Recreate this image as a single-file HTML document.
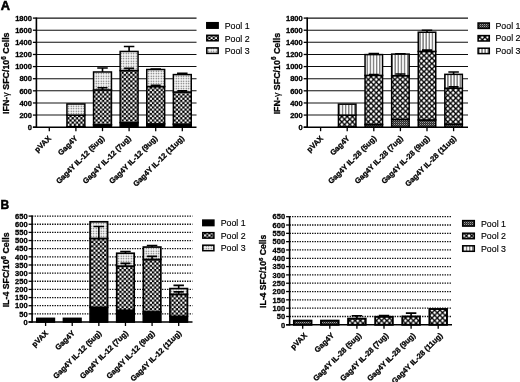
<!DOCTYPE html>
<html><head><meta charset="utf-8"><title>Figure</title>
<style>
html,body{margin:0;padding:0;background:#fff;}
body{width:520px;height:382px;overflow:hidden;font-family:"Liberation Sans", sans-serif;}
svg{display:block;font-family:"Liberation Sans", sans-serif;}
svg text{fill:#000;} svg text[font-weight=bold]{stroke:#000;stroke-width:0.3px;} svg text.lg{stroke:#000;stroke-width:0.15px;}
</style></head><body>
<svg width="520" height="382" viewBox="0 0 520 382">

<defs>
<filter id="bl" x="-5%" y="-5%" width="110%" height="110%"><feGaussianBlur stdDeviation="0.36"/></filter>
<pattern id="chk" width="4.34" height="4.34" patternUnits="userSpaceOnUse"><rect width="4.34" height="4.34" fill="#000"/><rect x="0.1" y="0.1" width="2.05" height="2.05" fill="#fff"/><rect x="2.27" y="2.27" width="2.05" height="2.05" fill="#fff"/></pattern>
<pattern id="dot" width="2.5" height="2.5" patternUnits="userSpaceOnUse"><rect width="2.5" height="2.5" fill="#fff"/><rect x="0.6" y="0.6" width="1.25" height="1.25" fill="#555"/></pattern>
<pattern id="brk" width="2" height="2" patternUnits="userSpaceOnUse"><rect width="2" height="2" fill="#2a2a2a"/><rect x="0" y="0" width="1" height="1" fill="#a0a0a0"/><rect x="1" y="1" width="1" height="1" fill="#555"/></pattern>
<pattern id="dia" width="5.3" height="5.3" patternUnits="userSpaceOnUse"><rect width="5.3" height="5.3" fill="#000"/><path d="M0 -1.7L1.7 0L0 1.7L-1.7 0ZM5.3 -1.7L7 0L5.3 1.7L3.6 0ZM0 3.6L1.7 5.3L0 7L-1.7 5.3ZM5.3 3.6L7 5.3L5.3 7L3.6 5.3ZM2.65 0.95L4.35 2.65L2.65 4.35L0.95 2.65Z" fill="#fff"/></pattern>
<pattern id="vst" width="3.1" height="3.1" patternUnits="userSpaceOnUse"><rect width="3.1" height="3.1" fill="#fff"/><rect x="1.1" y="0" width="0.85" height="3.1" fill="#222"/></pattern>
</defs>

<rect width="520" height="382" fill="#fff"/>
<g filter="url(#bl)">
<line x1="36.4" y1="115.08" x2="196.5" y2="115.08" stroke="#111" stroke-width="1.05"/>
<line x1="36.4" y1="102.96" x2="196.5" y2="102.96" stroke="#111" stroke-width="1.05"/>
<line x1="36.4" y1="90.83" x2="196.5" y2="90.83" stroke="#111" stroke-width="1.05"/>
<line x1="36.4" y1="78.71" x2="196.5" y2="78.71" stroke="#111" stroke-width="1.05"/>
<line x1="36.4" y1="66.59" x2="196.5" y2="66.59" stroke="#111" stroke-width="1.05"/>
<line x1="36.4" y1="54.47" x2="196.5" y2="54.47" stroke="#111" stroke-width="1.05"/>
<line x1="36.4" y1="42.34" x2="196.5" y2="42.34" stroke="#111" stroke-width="1.05"/>
<line x1="36.4" y1="30.22" x2="196.5" y2="30.22" stroke="#111" stroke-width="1.05"/>
<line x1="36.4" y1="18.1" x2="196.5" y2="18.1" stroke="#111" stroke-width="1.05"/>
<rect x="66.95" y="126.72" width="17.9" height="0.48" fill="#000" stroke="#000" stroke-width="1.5"/>
<rect x="66.95" y="115.08" width="17.9" height="11.64" fill="url(#chk)" stroke="#000" stroke-width="1.5"/>
<rect x="66.95" y="103.99" width="17.9" height="11.09" fill="url(#dot)" stroke="#000" stroke-width="1.5"/>
<rect x="93.55" y="124.78" width="17.9" height="2.42" fill="#000" stroke="#000" stroke-width="1.5"/>
<rect x="93.55" y="89.92" width="17.9" height="34.85" fill="url(#chk)" stroke="#000" stroke-width="1.5"/>
<rect x="93.55" y="71.98" width="17.9" height="17.94" fill="url(#dot)" stroke="#000" stroke-width="1.5"/>
<path d="M102.5 71.98V67.98M97.25 67.98H107.75" stroke="#000" stroke-width="1.6" fill="none"/>
<path d="M102.5 89.92V87.8M97.5 87.8H107.5" stroke="#000" stroke-width="1.6" fill="none"/>
<rect x="120.15" y="122.59" width="17.9" height="4.61" fill="#000" stroke="#000" stroke-width="1.5"/>
<rect x="120.15" y="70.53" width="17.9" height="52.06" fill="url(#chk)" stroke="#000" stroke-width="1.5"/>
<rect x="120.15" y="51.44" width="17.9" height="19.09" fill="url(#dot)" stroke="#000" stroke-width="1.5"/>
<path d="M129.1 51.44V46.53M123.85 46.53H134.35" stroke="#000" stroke-width="1.6" fill="none"/>
<path d="M129.1 70.53V68.41M124.1 68.41H134.1" stroke="#000" stroke-width="1.6" fill="none"/>
<rect x="146.75" y="123.87" width="17.9" height="3.33" fill="#000" stroke="#000" stroke-width="1.5"/>
<rect x="146.75" y="86.53" width="17.9" height="37.34" fill="url(#chk)" stroke="#000" stroke-width="1.5"/>
<rect x="146.75" y="69.5" width="17.9" height="17.03" fill="url(#dot)" stroke="#000" stroke-width="1.5"/>
<path d="M155.7 69.5V69.01M150.45 69.01H160.95" stroke="#000" stroke-width="1.6" fill="none"/>
<path d="M155.7 86.53V85.38M150.7 85.38H160.7" stroke="#000" stroke-width="1.6" fill="none"/>
<rect x="173.35" y="124.17" width="17.9" height="3.03" fill="#000" stroke="#000" stroke-width="1.5"/>
<rect x="173.35" y="92.05" width="17.9" height="32.12" fill="url(#chk)" stroke="#000" stroke-width="1.5"/>
<rect x="173.35" y="74.59" width="17.9" height="17.46" fill="url(#dot)" stroke="#000" stroke-width="1.5"/>
<path d="M182.3 74.59V73.38M177.05 73.38H187.55" stroke="#000" stroke-width="1.6" fill="none"/>
<path d="M182.3 92.05V90.83M177.3 90.83H187.3" stroke="#000" stroke-width="1.6" fill="none"/>
<line x1="36.4" y1="17.5" x2="36.4" y2="127.9" stroke="#000" stroke-width="1.6"/>
<line x1="32.9" y1="127.2" x2="196.5" y2="127.2" stroke="#000" stroke-width="1.5"/>
<line x1="32.9" y1="127.2" x2="36.4" y2="127.2" stroke="#000" stroke-width="1.3"/>
<text x="31.9" y="129.9" font-size="7.5" font-weight="bold" text-anchor="end">0</text>
<line x1="32.9" y1="115.08" x2="36.4" y2="115.08" stroke="#000" stroke-width="1.3"/>
<text x="31.9" y="117.78" font-size="7.5" font-weight="bold" text-anchor="end">200</text>
<line x1="32.9" y1="102.96" x2="36.4" y2="102.96" stroke="#000" stroke-width="1.3"/>
<text x="31.9" y="105.66" font-size="7.5" font-weight="bold" text-anchor="end">400</text>
<line x1="32.9" y1="90.83" x2="36.4" y2="90.83" stroke="#000" stroke-width="1.3"/>
<text x="31.9" y="93.53" font-size="7.5" font-weight="bold" text-anchor="end">600</text>
<line x1="32.9" y1="78.71" x2="36.4" y2="78.71" stroke="#000" stroke-width="1.3"/>
<text x="31.9" y="81.41" font-size="7.5" font-weight="bold" text-anchor="end">800</text>
<line x1="32.9" y1="66.59" x2="36.4" y2="66.59" stroke="#000" stroke-width="1.3"/>
<text x="31.9" y="69.29" font-size="7.5" font-weight="bold" text-anchor="end">1000</text>
<line x1="32.9" y1="54.47" x2="36.4" y2="54.47" stroke="#000" stroke-width="1.3"/>
<text x="31.9" y="57.17" font-size="7.5" font-weight="bold" text-anchor="end">1200</text>
<line x1="32.9" y1="42.34" x2="36.4" y2="42.34" stroke="#000" stroke-width="1.3"/>
<text x="31.9" y="45.04" font-size="7.5" font-weight="bold" text-anchor="end">1400</text>
<line x1="32.9" y1="30.22" x2="36.4" y2="30.22" stroke="#000" stroke-width="1.3"/>
<text x="31.9" y="32.92" font-size="7.5" font-weight="bold" text-anchor="end">1600</text>
<line x1="32.9" y1="18.1" x2="36.4" y2="18.1" stroke="#000" stroke-width="1.3"/>
<text x="31.9" y="20.8" font-size="7.5" font-weight="bold" text-anchor="end">1800</text>
<line x1="49.3" y1="127.2" x2="49.3" y2="131.2" stroke="#000" stroke-width="1.3"/>
<text transform="translate(51.5 138.8) rotate(-45)" font-size="7.6" font-weight="bold" text-anchor="end">pVAX</text>
<line x1="75.9" y1="127.2" x2="75.9" y2="131.2" stroke="#000" stroke-width="1.3"/>
<text transform="translate(78.1 138.8) rotate(-45)" font-size="7.6" font-weight="bold" text-anchor="end">Gag4Y</text>
<line x1="102.5" y1="127.2" x2="102.5" y2="131.2" stroke="#000" stroke-width="1.3"/>
<text transform="translate(104.7 138.8) rotate(-45)" font-size="7.6" font-weight="bold" text-anchor="end">Gag4Y IL-12 (5ug)</text>
<line x1="129.1" y1="127.2" x2="129.1" y2="131.2" stroke="#000" stroke-width="1.3"/>
<text transform="translate(131.3 138.8) rotate(-45)" font-size="7.6" font-weight="bold" text-anchor="end">Gag4Y IL-12 (7ug)</text>
<line x1="155.7" y1="127.2" x2="155.7" y2="131.2" stroke="#000" stroke-width="1.3"/>
<text transform="translate(157.9 138.8) rotate(-45)" font-size="7.6" font-weight="bold" text-anchor="end">Gag4Y IL-12 (9ug)</text>
<line x1="182.3" y1="127.2" x2="182.3" y2="131.2" stroke="#000" stroke-width="1.3"/>
<text transform="translate(184.5 138.8) rotate(-45)" font-size="7.6" font-weight="bold" text-anchor="end">Gag4Y IL-12 (11ug)</text>
<text transform="translate(9.2 73.2) rotate(-90)" font-size="8.9" font-weight="bold" text-anchor="middle">IFN-<tspan font-weight="normal" stroke-width="0.1">&#947;</tspan> SFC/10<tspan font-size="72%" dy="-3.4">6</tspan><tspan dy="3.4"> Cells</tspan></text>
<rect x="206.8" y="22.7" width="11.35" height="5.5" fill="#000" stroke="#000" stroke-width="1.5"/>
<text class="lg" x="224.7" y="28.9" font-size="8.8">Pool 1</text>
<rect x="206.8" y="35.3" width="11.35" height="5.5" fill="url(#chk)" stroke="#000" stroke-width="1.5"/>
<text class="lg" x="224.7" y="41.5" font-size="8.8">Pool 2</text>
<rect x="206.8" y="47.9" width="11.35" height="5.5" fill="url(#dot)" stroke="#000" stroke-width="1.5"/>
<text class="lg" x="224.7" y="54.1" font-size="8.8">Pool 3</text>
<line x1="307.2" y1="115.08" x2="468" y2="115.08" stroke="#111" stroke-width="1.05"/>
<line x1="307.2" y1="102.96" x2="468" y2="102.96" stroke="#111" stroke-width="1.05"/>
<line x1="307.2" y1="90.83" x2="468" y2="90.83" stroke="#111" stroke-width="1.05"/>
<line x1="307.2" y1="78.71" x2="468" y2="78.71" stroke="#111" stroke-width="1.05"/>
<line x1="307.2" y1="66.59" x2="468" y2="66.59" stroke="#111" stroke-width="1.05"/>
<line x1="307.2" y1="54.47" x2="468" y2="54.47" stroke="#111" stroke-width="1.05"/>
<line x1="307.2" y1="42.34" x2="468" y2="42.34" stroke="#111" stroke-width="1.05"/>
<line x1="307.2" y1="30.22" x2="468" y2="30.22" stroke="#111" stroke-width="1.05"/>
<line x1="307.2" y1="18.1" x2="468" y2="18.1" stroke="#111" stroke-width="1.05"/>
<rect x="338.45" y="126.9" width="17.5" height="0.3" fill="url(#brk)" stroke="#000" stroke-width="1.5"/>
<rect x="338.45" y="115.08" width="17.5" height="11.82" fill="url(#dia)" stroke="#000" stroke-width="1.5"/>
<rect x="338.45" y="104.17" width="17.5" height="10.91" fill="url(#vst)" stroke="#000" stroke-width="1.5"/>
<rect x="365.05" y="124.47" width="17.5" height="2.73" fill="url(#brk)" stroke="#000" stroke-width="1.5"/>
<rect x="365.05" y="75.38" width="17.5" height="49.09" fill="url(#dia)" stroke="#000" stroke-width="1.5"/>
<rect x="365.05" y="54.59" width="17.5" height="20.79" fill="url(#vst)" stroke="#000" stroke-width="1.5"/>
<path d="M373.8 54.59V53.5M368.55 53.5H379.05" stroke="#000" stroke-width="1.6" fill="none"/>
<path d="M373.8 75.38V74.47M368.8 74.47H378.8" stroke="#000" stroke-width="1.6" fill="none"/>
<rect x="391.65" y="119.38" width="17.5" height="7.82" fill="url(#brk)" stroke="#000" stroke-width="1.5"/>
<rect x="391.65" y="75.68" width="17.5" height="43.7" fill="url(#dia)" stroke="#000" stroke-width="1.5"/>
<rect x="391.65" y="54.1" width="17.5" height="21.58" fill="url(#vst)" stroke="#000" stroke-width="1.5"/>
<path d="M400.4 54.1V53.74M395.15 53.74H405.65" stroke="#000" stroke-width="1.6" fill="none"/>
<path d="M400.4 75.68V73.98M395.4 73.98H405.4" stroke="#000" stroke-width="1.6" fill="none"/>
<rect x="418.25" y="119.93" width="17.5" height="7.27" fill="url(#brk)" stroke="#000" stroke-width="1.5"/>
<rect x="418.25" y="51.44" width="17.5" height="68.49" fill="url(#dia)" stroke="#000" stroke-width="1.5"/>
<rect x="418.25" y="32.22" width="17.5" height="19.21" fill="url(#vst)" stroke="#000" stroke-width="1.5"/>
<path d="M427 32.22V30.22M421.75 30.22H432.25" stroke="#000" stroke-width="1.6" fill="none"/>
<path d="M427 51.44V50.1M422 50.1H432" stroke="#000" stroke-width="1.6" fill="none"/>
<rect x="444.85" y="124.17" width="17.5" height="3.03" fill="url(#brk)" stroke="#000" stroke-width="1.5"/>
<rect x="444.85" y="88.23" width="17.5" height="35.94" fill="url(#dia)" stroke="#000" stroke-width="1.5"/>
<rect x="444.85" y="74.35" width="17.5" height="13.88" fill="url(#vst)" stroke="#000" stroke-width="1.5"/>
<path d="M453.6 74.35V72.04M448.35 72.04H458.85" stroke="#000" stroke-width="1.6" fill="none"/>
<path d="M453.6 88.23V86.89M448.6 86.89H458.6" stroke="#000" stroke-width="1.6" fill="none"/>
<line x1="307.2" y1="17.5" x2="307.2" y2="127.9" stroke="#000" stroke-width="1.6"/>
<line x1="303.7" y1="127.2" x2="468" y2="127.2" stroke="#000" stroke-width="1.5"/>
<line x1="303.7" y1="127.2" x2="307.2" y2="127.2" stroke="#000" stroke-width="1.3"/>
<text x="302.7" y="129.9" font-size="7.5" font-weight="bold" text-anchor="end">0</text>
<line x1="303.7" y1="115.08" x2="307.2" y2="115.08" stroke="#000" stroke-width="1.3"/>
<text x="302.7" y="117.78" font-size="7.5" font-weight="bold" text-anchor="end">200</text>
<line x1="303.7" y1="102.96" x2="307.2" y2="102.96" stroke="#000" stroke-width="1.3"/>
<text x="302.7" y="105.66" font-size="7.5" font-weight="bold" text-anchor="end">400</text>
<line x1="303.7" y1="90.83" x2="307.2" y2="90.83" stroke="#000" stroke-width="1.3"/>
<text x="302.7" y="93.53" font-size="7.5" font-weight="bold" text-anchor="end">600</text>
<line x1="303.7" y1="78.71" x2="307.2" y2="78.71" stroke="#000" stroke-width="1.3"/>
<text x="302.7" y="81.41" font-size="7.5" font-weight="bold" text-anchor="end">800</text>
<line x1="303.7" y1="66.59" x2="307.2" y2="66.59" stroke="#000" stroke-width="1.3"/>
<text x="302.7" y="69.29" font-size="7.5" font-weight="bold" text-anchor="end">1000</text>
<line x1="303.7" y1="54.47" x2="307.2" y2="54.47" stroke="#000" stroke-width="1.3"/>
<text x="302.7" y="57.17" font-size="7.5" font-weight="bold" text-anchor="end">1200</text>
<line x1="303.7" y1="42.34" x2="307.2" y2="42.34" stroke="#000" stroke-width="1.3"/>
<text x="302.7" y="45.04" font-size="7.5" font-weight="bold" text-anchor="end">1400</text>
<line x1="303.7" y1="30.22" x2="307.2" y2="30.22" stroke="#000" stroke-width="1.3"/>
<text x="302.7" y="32.92" font-size="7.5" font-weight="bold" text-anchor="end">1600</text>
<line x1="303.7" y1="18.1" x2="307.2" y2="18.1" stroke="#000" stroke-width="1.3"/>
<text x="302.7" y="20.8" font-size="7.5" font-weight="bold" text-anchor="end">1800</text>
<line x1="320.6" y1="127.2" x2="320.6" y2="131.2" stroke="#000" stroke-width="1.3"/>
<text transform="translate(323.6 138.8) rotate(-45)" font-size="7.6" font-weight="bold" text-anchor="end">pVAX</text>
<line x1="347.2" y1="127.2" x2="347.2" y2="131.2" stroke="#000" stroke-width="1.3"/>
<text transform="translate(350.2 138.8) rotate(-45)" font-size="7.6" font-weight="bold" text-anchor="end">Gag4Y</text>
<line x1="373.8" y1="127.2" x2="373.8" y2="131.2" stroke="#000" stroke-width="1.3"/>
<text transform="translate(376.8 138.8) rotate(-45)" font-size="7.6" font-weight="bold" text-anchor="end">Gag4Y IL-28 (5ug)</text>
<line x1="400.4" y1="127.2" x2="400.4" y2="131.2" stroke="#000" stroke-width="1.3"/>
<text transform="translate(403.4 138.8) rotate(-45)" font-size="7.6" font-weight="bold" text-anchor="end">Gag4Y IL-28 (7ug)</text>
<line x1="427" y1="127.2" x2="427" y2="131.2" stroke="#000" stroke-width="1.3"/>
<text transform="translate(430 138.8) rotate(-45)" font-size="7.6" font-weight="bold" text-anchor="end">Gag4Y IL-28 (9ug)</text>
<line x1="453.6" y1="127.2" x2="453.6" y2="131.2" stroke="#000" stroke-width="1.3"/>
<text transform="translate(456.6 138.8) rotate(-45)" font-size="7.6" font-weight="bold" text-anchor="end">Gag4Y IL-28 (11ug)</text>
<text transform="translate(279.6 73.6) rotate(-90)" font-size="8.9" font-weight="bold" text-anchor="middle">IFN-<tspan font-weight="normal" stroke-width="0.1">&#947;</tspan> SFC/10<tspan font-size="72%" dy="-3.4">6</tspan><tspan dy="3.4"> Cells</tspan></text>
<rect x="478.1" y="23" width="11.2" height="5.4" fill="url(#brk)" stroke="#000" stroke-width="1.5"/>
<text class="lg" x="495.5" y="28.7" font-size="8.8">Pool 1</text>
<rect x="478.1" y="35.6" width="11.2" height="5.4" fill="url(#dia)" stroke="#000" stroke-width="1.5"/>
<text class="lg" x="495.5" y="41.3" font-size="8.8">Pool 2</text>
<rect x="478.1" y="48.2" width="11.2" height="5.4" fill="url(#vst)" stroke="#000" stroke-width="1.5"/>
<text class="lg" x="495.5" y="53.9" font-size="8.8">Pool 3</text>
<line x1="32.1" y1="313.85" x2="192.5" y2="313.85" stroke="#000" stroke-width="1.3" stroke-dasharray="1.3 1.2"/>
<line x1="32.1" y1="305.71" x2="192.5" y2="305.71" stroke="#000" stroke-width="1.3" stroke-dasharray="1.3 1.2"/>
<line x1="32.1" y1="297.56" x2="192.5" y2="297.56" stroke="#000" stroke-width="1.3" stroke-dasharray="1.3 1.2"/>
<line x1="32.1" y1="289.42" x2="192.5" y2="289.42" stroke="#000" stroke-width="1.3" stroke-dasharray="1.3 1.2"/>
<line x1="32.1" y1="281.27" x2="192.5" y2="281.27" stroke="#000" stroke-width="1.3" stroke-dasharray="1.3 1.2"/>
<line x1="32.1" y1="273.12" x2="192.5" y2="273.12" stroke="#000" stroke-width="1.3" stroke-dasharray="1.3 1.2"/>
<line x1="32.1" y1="264.98" x2="192.5" y2="264.98" stroke="#000" stroke-width="1.3" stroke-dasharray="1.3 1.2"/>
<line x1="32.1" y1="256.83" x2="192.5" y2="256.83" stroke="#000" stroke-width="1.3" stroke-dasharray="1.3 1.2"/>
<line x1="32.1" y1="248.68" x2="192.5" y2="248.68" stroke="#000" stroke-width="1.3" stroke-dasharray="1.3 1.2"/>
<line x1="32.1" y1="240.54" x2="192.5" y2="240.54" stroke="#000" stroke-width="1.3" stroke-dasharray="1.3 1.2"/>
<line x1="32.1" y1="232.39" x2="192.5" y2="232.39" stroke="#000" stroke-width="1.3" stroke-dasharray="1.3 1.2"/>
<line x1="32.1" y1="224.25" x2="192.5" y2="224.25" stroke="#000" stroke-width="1.3" stroke-dasharray="1.3 1.2"/>
<line x1="32.1" y1="216.1" x2="192.5" y2="216.1" stroke="#000" stroke-width="1.3" stroke-dasharray="1.3 1.2"/>
<rect x="36.85" y="318.42" width="17.5" height="3.58" fill="#000" stroke="#000" stroke-width="1.7"/>
<rect x="63.47" y="318.42" width="17.5" height="3.58" fill="#000" stroke="#000" stroke-width="1.7"/>
<rect x="90.09" y="307.34" width="17.5" height="14.66" fill="#000" stroke="#000" stroke-width="1.7"/>
<rect x="90.09" y="238.42" width="17.5" height="68.92" fill="url(#chk)" stroke="#000" stroke-width="1.7"/>
<rect x="90.09" y="221.8" width="17.5" height="16.62" fill="url(#dot)" stroke="#000" stroke-width="1.7"/>
<path d="M98.84 238.42V226.53M93.59 226.53H104.09" stroke="#000" stroke-width="1.6" fill="none"/>
<rect x="116.71" y="310.27" width="17.5" height="11.73" fill="#000" stroke="#000" stroke-width="1.7"/>
<rect x="116.71" y="266.12" width="17.5" height="44.15" fill="url(#chk)" stroke="#000" stroke-width="1.7"/>
<rect x="116.71" y="253.25" width="17.5" height="12.87" fill="url(#dot)" stroke="#000" stroke-width="1.7"/>
<path d="M125.46 253.25V251.45M120.21 251.45H130.71" stroke="#000" stroke-width="1.6" fill="none"/>
<path d="M125.46 266.12V263.35M120.46 263.35H130.46" stroke="#000" stroke-width="1.6" fill="none"/>
<rect x="143.33" y="311.9" width="17.5" height="10.1" fill="#000" stroke="#000" stroke-width="1.7"/>
<rect x="143.33" y="259.44" width="17.5" height="52.46" fill="url(#chk)" stroke="#000" stroke-width="1.7"/>
<rect x="143.33" y="247.06" width="17.5" height="12.38" fill="url(#dot)" stroke="#000" stroke-width="1.7"/>
<path d="M152.08 247.06V245.43M146.83 245.43H157.33" stroke="#000" stroke-width="1.6" fill="none"/>
<path d="M152.08 259.44V256.34M147.08 256.34H157.08" stroke="#000" stroke-width="1.6" fill="none"/>
<rect x="169.95" y="316.3" width="17.5" height="5.7" fill="#000" stroke="#000" stroke-width="1.7"/>
<rect x="169.95" y="294.3" width="17.5" height="21.99" fill="url(#chk)" stroke="#000" stroke-width="1.7"/>
<rect x="169.95" y="288.6" width="17.5" height="5.7" fill="url(#dot)" stroke="#000" stroke-width="1.7"/>
<path d="M178.7 288.6V285.34M173.45 285.34H183.95" stroke="#000" stroke-width="1.6" fill="none"/>
<path d="M178.7 294.3V291.86M173.7 291.86H183.7" stroke="#000" stroke-width="1.6" fill="none"/>
<line x1="32.1" y1="215.5" x2="32.1" y2="322.7" stroke="#000" stroke-width="1.6"/>
<line x1="28.6" y1="322" x2="192.5" y2="322" stroke="#000" stroke-width="1.5"/>
<line x1="28.6" y1="322" x2="32.1" y2="322" stroke="#000" stroke-width="1.3"/>
<text x="27.6" y="324.7" font-size="7.5" font-weight="bold" text-anchor="end">0</text>
<line x1="28.6" y1="313.85" x2="32.1" y2="313.85" stroke="#000" stroke-width="1.3"/>
<text x="27.6" y="316.55" font-size="7.5" font-weight="bold" text-anchor="end">50</text>
<line x1="28.6" y1="305.71" x2="32.1" y2="305.71" stroke="#000" stroke-width="1.3"/>
<text x="27.6" y="308.41" font-size="7.5" font-weight="bold" text-anchor="end">100</text>
<line x1="28.6" y1="297.56" x2="32.1" y2="297.56" stroke="#000" stroke-width="1.3"/>
<text x="27.6" y="300.26" font-size="7.5" font-weight="bold" text-anchor="end">150</text>
<line x1="28.6" y1="289.42" x2="32.1" y2="289.42" stroke="#000" stroke-width="1.3"/>
<text x="27.6" y="292.12" font-size="7.5" font-weight="bold" text-anchor="end">200</text>
<line x1="28.6" y1="281.27" x2="32.1" y2="281.27" stroke="#000" stroke-width="1.3"/>
<text x="27.6" y="283.97" font-size="7.5" font-weight="bold" text-anchor="end">250</text>
<line x1="28.6" y1="273.12" x2="32.1" y2="273.12" stroke="#000" stroke-width="1.3"/>
<text x="27.6" y="275.82" font-size="7.5" font-weight="bold" text-anchor="end">300</text>
<line x1="28.6" y1="264.98" x2="32.1" y2="264.98" stroke="#000" stroke-width="1.3"/>
<text x="27.6" y="267.68" font-size="7.5" font-weight="bold" text-anchor="end">350</text>
<line x1="28.6" y1="256.83" x2="32.1" y2="256.83" stroke="#000" stroke-width="1.3"/>
<text x="27.6" y="259.53" font-size="7.5" font-weight="bold" text-anchor="end">400</text>
<line x1="28.6" y1="248.68" x2="32.1" y2="248.68" stroke="#000" stroke-width="1.3"/>
<text x="27.6" y="251.38" font-size="7.5" font-weight="bold" text-anchor="end">450</text>
<line x1="28.6" y1="240.54" x2="32.1" y2="240.54" stroke="#000" stroke-width="1.3"/>
<text x="27.6" y="243.24" font-size="7.5" font-weight="bold" text-anchor="end">500</text>
<line x1="28.6" y1="232.39" x2="32.1" y2="232.39" stroke="#000" stroke-width="1.3"/>
<text x="27.6" y="235.09" font-size="7.5" font-weight="bold" text-anchor="end">550</text>
<line x1="28.6" y1="224.25" x2="32.1" y2="224.25" stroke="#000" stroke-width="1.3"/>
<text x="27.6" y="226.95" font-size="7.5" font-weight="bold" text-anchor="end">600</text>
<line x1="28.6" y1="216.1" x2="32.1" y2="216.1" stroke="#000" stroke-width="1.3"/>
<text x="27.6" y="218.8" font-size="7.5" font-weight="bold" text-anchor="end">650</text>
<line x1="45.6" y1="322" x2="45.6" y2="326" stroke="#000" stroke-width="1.3"/>
<text transform="translate(48.6 333.6) rotate(-45)" font-size="7.6" font-weight="bold" text-anchor="end">pVAX</text>
<line x1="72.22" y1="322" x2="72.22" y2="326" stroke="#000" stroke-width="1.3"/>
<text transform="translate(75.22 333.6) rotate(-45)" font-size="7.6" font-weight="bold" text-anchor="end">Gag4Y</text>
<line x1="98.84" y1="322" x2="98.84" y2="326" stroke="#000" stroke-width="1.3"/>
<text transform="translate(101.84 333.6) rotate(-45)" font-size="7.6" font-weight="bold" text-anchor="end">Gag4Y IL-12 (5ug)</text>
<line x1="125.46" y1="322" x2="125.46" y2="326" stroke="#000" stroke-width="1.3"/>
<text transform="translate(128.46 333.6) rotate(-45)" font-size="7.6" font-weight="bold" text-anchor="end">Gag4Y IL-12 (7ug)</text>
<line x1="152.08" y1="322" x2="152.08" y2="326" stroke="#000" stroke-width="1.3"/>
<text transform="translate(155.08 333.6) rotate(-45)" font-size="7.6" font-weight="bold" text-anchor="end">Gag4Y IL-12 (9ug)</text>
<line x1="178.7" y1="322" x2="178.7" y2="326" stroke="#000" stroke-width="1.3"/>
<text transform="translate(181.7 333.6) rotate(-45)" font-size="7.6" font-weight="bold" text-anchor="end">Gag4Y IL-12 (11ug)</text>
<text transform="translate(9.3 269.9) rotate(-90)" font-size="8.8" font-weight="bold" text-anchor="middle">IL-4 SFC/10<tspan font-size="72%" dy="-3.2">6</tspan><tspan dy="3.2"> Cells</tspan></text>
<rect x="202.8" y="220.1" width="11.1" height="5.5" fill="#000" stroke="#000" stroke-width="1.5"/>
<text class="lg" x="220.7" y="226.3" font-size="8.8">Pool 1</text>
<rect x="202.8" y="232.65" width="11.1" height="5.5" fill="url(#chk)" stroke="#000" stroke-width="1.5"/>
<text class="lg" x="220.7" y="238.85" font-size="8.8">Pool 2</text>
<rect x="202.8" y="245.2" width="11.1" height="5.5" fill="url(#dot)" stroke="#000" stroke-width="1.5"/>
<text class="lg" x="220.7" y="251.4" font-size="8.8">Pool 3</text>
<line x1="289.6" y1="316.48" x2="452" y2="316.48" stroke="#000" stroke-width="1.3" stroke-dasharray="1.3 1.2"/>
<line x1="289.6" y1="308.17" x2="452" y2="308.17" stroke="#000" stroke-width="1.3" stroke-dasharray="1.3 1.2"/>
<line x1="289.6" y1="299.85" x2="452" y2="299.85" stroke="#000" stroke-width="1.3" stroke-dasharray="1.3 1.2"/>
<line x1="289.6" y1="291.54" x2="452" y2="291.54" stroke="#000" stroke-width="1.3" stroke-dasharray="1.3 1.2"/>
<line x1="289.6" y1="283.22" x2="452" y2="283.22" stroke="#000" stroke-width="1.3" stroke-dasharray="1.3 1.2"/>
<line x1="289.6" y1="274.91" x2="452" y2="274.91" stroke="#000" stroke-width="1.3" stroke-dasharray="1.3 1.2"/>
<line x1="289.6" y1="266.59" x2="452" y2="266.59" stroke="#000" stroke-width="1.3" stroke-dasharray="1.3 1.2"/>
<line x1="289.6" y1="258.28" x2="452" y2="258.28" stroke="#000" stroke-width="1.3" stroke-dasharray="1.3 1.2"/>
<line x1="289.6" y1="249.96" x2="452" y2="249.96" stroke="#000" stroke-width="1.3" stroke-dasharray="1.3 1.2"/>
<line x1="289.6" y1="241.65" x2="452" y2="241.65" stroke="#000" stroke-width="1.3" stroke-dasharray="1.3 1.2"/>
<line x1="289.6" y1="233.33" x2="452" y2="233.33" stroke="#000" stroke-width="1.3" stroke-dasharray="1.3 1.2"/>
<line x1="289.6" y1="225.02" x2="452" y2="225.02" stroke="#000" stroke-width="1.3" stroke-dasharray="1.3 1.2"/>
<line x1="289.6" y1="216.7" x2="452" y2="216.7" stroke="#000" stroke-width="1.3" stroke-dasharray="1.3 1.2"/>
<rect x="293.9" y="320.64" width="17.6" height="4.16" fill="url(#brk)" stroke="#000" stroke-width="1.9"/>
<rect x="321" y="320.64" width="17.6" height="4.16" fill="url(#brk)" stroke="#000" stroke-width="1.9"/>
<rect x="348.1" y="318.65" width="17.6" height="6.15" fill="url(#dia)" stroke="#000" stroke-width="1.9"/>
<path d="M356.9 318.65V315.82M351.65 315.82H362.15" stroke="#000" stroke-width="1.6" fill="none"/>
<rect x="375.2" y="316.82" width="17.6" height="7.98" fill="url(#dia)" stroke="#000" stroke-width="1.9"/>
<path d="M384 316.82V315.65M378.75 315.65H389.25" stroke="#000" stroke-width="1.6" fill="none"/>
<rect x="402.3" y="316.48" width="17.6" height="8.32" fill="url(#dia)" stroke="#000" stroke-width="1.9"/>
<path d="M411.1 316.48V313.16M405.85 313.16H416.35" stroke="#000" stroke-width="1.6" fill="none"/>
<rect x="429.4" y="309" width="17.6" height="15.8" fill="url(#dia)" stroke="#000" stroke-width="1.9"/>
<line x1="289.6" y1="216.1" x2="289.6" y2="325.5" stroke="#000" stroke-width="1.6"/>
<line x1="286.1" y1="324.8" x2="452" y2="324.8" stroke="#000" stroke-width="1.5"/>
<line x1="286.1" y1="324.8" x2="289.6" y2="324.8" stroke="#000" stroke-width="1.3"/>
<text x="285.1" y="327.5" font-size="7.5" font-weight="bold" text-anchor="end">0</text>
<line x1="286.1" y1="316.48" x2="289.6" y2="316.48" stroke="#000" stroke-width="1.3"/>
<text x="285.1" y="319.18" font-size="7.5" font-weight="bold" text-anchor="end">50</text>
<line x1="286.1" y1="308.17" x2="289.6" y2="308.17" stroke="#000" stroke-width="1.3"/>
<text x="285.1" y="310.87" font-size="7.5" font-weight="bold" text-anchor="end">100</text>
<line x1="286.1" y1="299.85" x2="289.6" y2="299.85" stroke="#000" stroke-width="1.3"/>
<text x="285.1" y="302.55" font-size="7.5" font-weight="bold" text-anchor="end">150</text>
<line x1="286.1" y1="291.54" x2="289.6" y2="291.54" stroke="#000" stroke-width="1.3"/>
<text x="285.1" y="294.24" font-size="7.5" font-weight="bold" text-anchor="end">200</text>
<line x1="286.1" y1="283.22" x2="289.6" y2="283.22" stroke="#000" stroke-width="1.3"/>
<text x="285.1" y="285.92" font-size="7.5" font-weight="bold" text-anchor="end">250</text>
<line x1="286.1" y1="274.91" x2="289.6" y2="274.91" stroke="#000" stroke-width="1.3"/>
<text x="285.1" y="277.61" font-size="7.5" font-weight="bold" text-anchor="end">300</text>
<line x1="286.1" y1="266.59" x2="289.6" y2="266.59" stroke="#000" stroke-width="1.3"/>
<text x="285.1" y="269.29" font-size="7.5" font-weight="bold" text-anchor="end">350</text>
<line x1="286.1" y1="258.28" x2="289.6" y2="258.28" stroke="#000" stroke-width="1.3"/>
<text x="285.1" y="260.98" font-size="7.5" font-weight="bold" text-anchor="end">400</text>
<line x1="286.1" y1="249.96" x2="289.6" y2="249.96" stroke="#000" stroke-width="1.3"/>
<text x="285.1" y="252.66" font-size="7.5" font-weight="bold" text-anchor="end">450</text>
<line x1="286.1" y1="241.65" x2="289.6" y2="241.65" stroke="#000" stroke-width="1.3"/>
<text x="285.1" y="244.35" font-size="7.5" font-weight="bold" text-anchor="end">500</text>
<line x1="286.1" y1="233.33" x2="289.6" y2="233.33" stroke="#000" stroke-width="1.3"/>
<text x="285.1" y="236.03" font-size="7.5" font-weight="bold" text-anchor="end">550</text>
<line x1="286.1" y1="225.02" x2="289.6" y2="225.02" stroke="#000" stroke-width="1.3"/>
<text x="285.1" y="227.72" font-size="7.5" font-weight="bold" text-anchor="end">600</text>
<line x1="286.1" y1="216.7" x2="289.6" y2="216.7" stroke="#000" stroke-width="1.3"/>
<text x="285.1" y="219.4" font-size="7.5" font-weight="bold" text-anchor="end">650</text>
<line x1="302.7" y1="324.8" x2="302.7" y2="328.8" stroke="#000" stroke-width="1.3"/>
<text transform="translate(307.5 336) rotate(-45)" font-size="7.6" font-weight="bold" text-anchor="end">pVAX</text>
<line x1="329.8" y1="324.8" x2="329.8" y2="328.8" stroke="#000" stroke-width="1.3"/>
<text transform="translate(334.6 336) rotate(-45)" font-size="7.6" font-weight="bold" text-anchor="end">Gag4Y</text>
<line x1="356.9" y1="324.8" x2="356.9" y2="328.8" stroke="#000" stroke-width="1.3"/>
<text transform="translate(361.7 336) rotate(-45)" font-size="7.6" font-weight="bold" text-anchor="end">Gag4Y IL-28 (5ug)</text>
<line x1="384" y1="324.8" x2="384" y2="328.8" stroke="#000" stroke-width="1.3"/>
<text transform="translate(388.8 336) rotate(-45)" font-size="7.6" font-weight="bold" text-anchor="end">Gag4Y IL-28 (7ug)</text>
<line x1="411.1" y1="324.8" x2="411.1" y2="328.8" stroke="#000" stroke-width="1.3"/>
<text transform="translate(415.9 336) rotate(-45)" font-size="7.6" font-weight="bold" text-anchor="end">Gag4Y IL-28 (9ug)</text>
<line x1="438.2" y1="324.8" x2="438.2" y2="328.8" stroke="#000" stroke-width="1.3"/>
<text transform="translate(443 336) rotate(-45)" font-size="7.6" font-weight="bold" text-anchor="end">Gag4Y IL-28 (11ug)</text>
<text transform="translate(266.1 271.3) rotate(-90)" font-size="8.6" font-weight="bold" text-anchor="middle">IL-4 SFC/10<tspan font-size="72%" dy="-3.2">6</tspan><tspan dy="3.2"> Cells</tspan></text>
<rect x="462.7" y="220.6" width="11.6" height="5.5" fill="url(#brk)" stroke="#000" stroke-width="1.5"/>
<text class="lg" x="481" y="226.7" font-size="8.8">Pool 1</text>
<rect x="462.7" y="233.2" width="11.6" height="5.5" fill="url(#dia)" stroke="#000" stroke-width="1.5"/>
<text class="lg" x="481" y="239.3" font-size="8.8">Pool 2</text>
<rect x="462.7" y="245.8" width="11.6" height="5.5" fill="url(#vst)" stroke="#000" stroke-width="1.5"/>
<text class="lg" x="481" y="251.9" font-size="8.8">Pool 3</text>
<text x="0.8" y="9.6" font-size="12.8" font-weight="bold" style="stroke-width:0.55px">A</text>
<text x="0.4" y="209.2" font-size="12" font-weight="bold" style="stroke-width:0.5px">B</text>
</g>
</svg>
</body></html>
